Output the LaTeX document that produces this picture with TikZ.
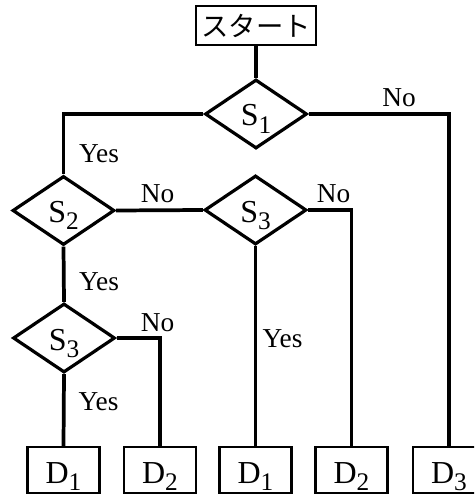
\documentclass[tikz,border=0pt]{standalone}
\usepackage{fontspec}
\setmainfont{Liberation Serif}
\newfontfamily\cjk{Noto Sans CJK JP}
\usetikzlibrary{shapes.geometric}
\newcommand\SubLab[2]{{\fontsize{24pt}{25pt}\selectfont #1\raisebox{-5.5pt}{\fontsize{19pt}{20pt}\selectfont #2}}}
\begin{document}
\begin{tikzpicture}[x=0.75pt,y=-0.75pt,
  dec/.style={diamond, draw, line width=2.4pt, minimum width=76.5pt, minimum height=51.75pt, inner sep=0pt, text height=18pt, text depth=0pt},
  leaf/.style={rectangle, draw, line width=1.6pt, minimum width=54pt, minimum height=34.5pt, inner sep=0pt, text height=19.5pt, text depth=0pt},
  startbox/.style={rectangle, draw, line width=1.6pt, minimum width=90pt, minimum height=29.25pt, inner sep=0pt, font=\cjk\fontsize{20.5pt}{22pt}\selectfont},
  conn/.style={line width=2.8pt},
  lab/.style={font=\fontsize{20.5pt}{22pt}\selectfont, inner sep=0pt, anchor=base}]
\useasboundingbox (0,0) rectangle (474,495);
\clip (0,0) rectangle (474,495);
% nodes
\node[startbox] (start) at (256,25.5) {スタート};
\node[dec] (s1) at (256,114) {\SubLab{S}{1}};
\node[dec] (s2) at (63.5,210.5) {\SubLab{S}{2}};
\node[dec] (s3m) at (255.5,210) {\SubLab{S}{3}};
\node[dec] (s3l) at (64,338) {\SubLab{S}{3}};
\node[leaf] (d1a) at (63.5,470) {\SubLab{D}{1}};
\node[leaf] (d2a) at (160,470) {\SubLab{D}{2}};
\node[leaf] (d1b) at (255.5,470) {\SubLab{D}{1}};
\node[leaf] (d2b) at (351.5,470) {\SubLab{D}{2}};
\node[leaf] (d3) at (449,470) {\SubLab{D}{3}};
% connectors
\draw[conn] (start.south) -- (s1.north);
\draw[conn] (s1.west) -| (s2.north);
\draw[conn] (s1.east) -| (d3.north);
\draw[conn] (s2.east) -- (s3m.west);
\draw[conn] (s2.south) -- (s3l.north);
\draw[conn] (s3m.east) -| (d2b.north);
\draw[conn] (s3m.south) -- (d1b.north);
\draw[conn] (s3l.south) -- (d1a.north);
\draw[conn] (s3l.east) -| (d2a.north);
% labels
\node[lab] (l1) at (399,107) {No};
\node[lab] (l2) at (99,163) {Yes};
\node[lab] (l3) at (157.5,202) {No};
\node[lab] (l4) at (333.5,202) {No};
\node[lab] (l5) at (99,290) {Yes};
\node[lab] (l6) at (157.5,331) {No};
\node[lab] (l7) at (282.5,347) {Yes};
\node[lab] (l8) at (98.5,410) {Yes};
\end{tikzpicture}
\end{document}
